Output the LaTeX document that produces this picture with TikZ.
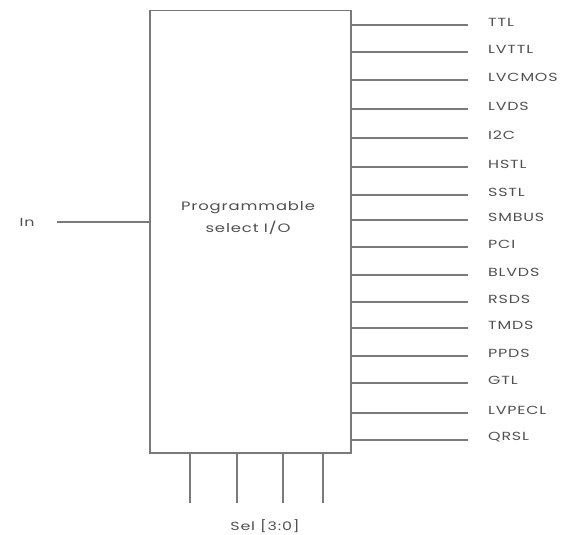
\documentclass[tikz,border=0pt]{standalone}
\usepackage{fontspec}
\setmainfont{Poppins}[FakeStretch=1.35,LetterSpace=7]
\definecolor{linegray}{HTML}{7A7A7A}
\definecolor{txtgray}{HTML}{505050}
\begin{document}
\begin{tikzpicture}[x=1bp,y=-1bp,
  wire/.style={draw=linegray, line width=1.3bp},
  lbl/.style={text=txtgray, font=\fontsize{11.8}{14}\selectfont, inner sep=0pt},
  blk/.style={draw=linegray, line width=1.5bp, rectangle, inner sep=0pt,
    minimum width=201bp, minimum height=442bp, anchor=north west}]
\useasboundingbox (0,0) rectangle (571,535);
\node[blk] (box) at (149,10) {};
\node[lbl, align=center, font=\fontsize{12.2}{22}\selectfont] (title) at (248,218) {Programmable\\select I/O};
\foreach \y/\t [count=\i] in {25/TTL,52/LVTTL,80/LVCMOS,109/LVDS,138/I2C,167/HSTL,195/SSTL,220/SMBUS,247/PCI,275/BLVDS,302/RSDS,328/TMDS,356/PPDS,383/GTL,413/LVPECL,440/QRSL}{
  \coordinate (o\i) at (468,\y);
  \draw[wire] (box.east |- o\i) -- (o\i);
  \node[lbl, anchor=west] (l\i) at (488,\y-3) {\t};
}
\foreach \x [count=\i] in {190,237,283,323}{
  \coordinate (s\i) at (\x,503);
  \draw[wire] (box.south -| s\i) -- (s\i);
}
\node[lbl] (sel) at (265,526) {Sel [3:0]};
\node[lbl] (in) at (27,222) {In};
\coordinate (inend) at (57,222);
\draw[wire] (inend) -- (box.west |- inend);
\end{tikzpicture}
\end{document}
